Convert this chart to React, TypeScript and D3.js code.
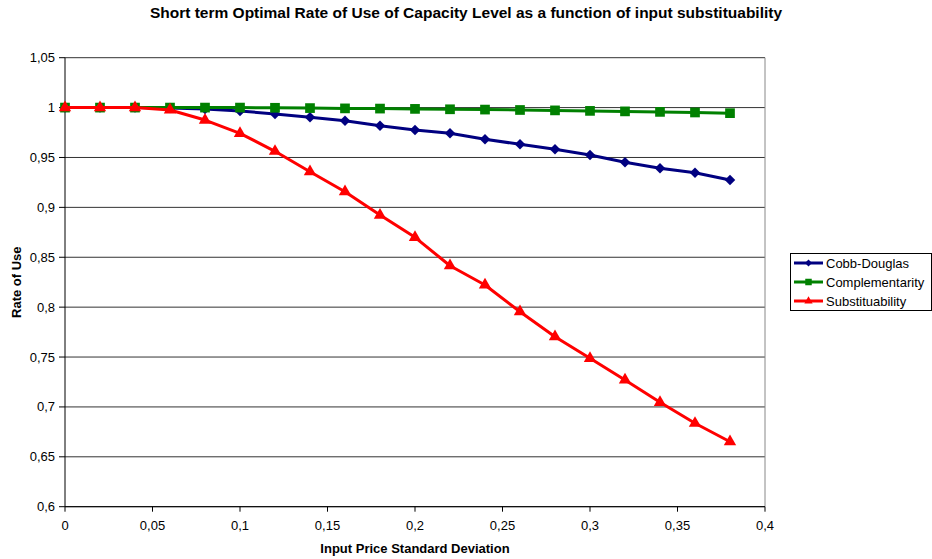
import * as d3 from 'd3';

const X_VALUES = [0, 0.02, 0.04, 0.06, 0.08, 0.1, 0.12, 0.14, 0.16, 0.18, 0.2, 0.22, 0.24, 0.26, 0.28, 0.3, 0.32, 0.34, 0.36, 0.38];
const COBB_DOUGLAS = [1, 1, 1, 0.9995, 0.9985, 0.9966, 0.9936, 0.9903, 0.9869, 0.9818, 0.9775, 0.9742, 0.9682, 0.9632, 0.9582, 0.9525, 0.9452, 0.9392, 0.9347, 0.9274];
const COMPLEMENTARITY = [1, 1, 1, 1, 1, 1, 0.9998, 0.9995, 0.9992, 0.999, 0.9987, 0.9983, 0.998, 0.9976, 0.9972, 0.9967, 0.9962, 0.9957, 0.9951, 0.9944];
const SUBSTITUABILITY = [1, 1, 1, 0.9976, 0.9875, 0.9742, 0.9562, 0.9357, 0.9157, 0.8923, 0.870, 0.8415, 0.8222, 0.7954, 0.7704, 0.7487, 0.727, 0.7046, 0.6836, 0.6651];

const X_TICKS = [0, 0.05, 0.1, 0.15, 0.2, 0.25, 0.3, 0.35, 0.4];
const Y_TICKS = [0.6, 0.65, 0.7, 0.75, 0.8, 0.85, 0.9, 0.95, 1, 1.05];

const VW = 932;
const VH = 559;
const PLOT = { left: 65, right: 765, top: 57.7, bottom: 506.7 };
const FONT = '"Liberation Sans", Arial, sans-serif';

const fmtNum = (v: number) => String(+v.toFixed(2)).replace('.', ',');

const xScale = d3.scaleLinear().domain([0, 0.4]).range([PLOT.left, PLOT.right]);
const yScale = d3.scaleLinear().domain([0.6, 1.05]).range([PLOT.bottom, PLOT.top]);

const SERIES = [
  { name: 'Cobb-Douglas', values: COBB_DOUGLAS, color: '#000080', symbol: d3.symbolDiamond2, size: 70 },
  { name: 'Complementarity', values: COMPLEMENTARITY, color: '#008000', symbol: d3.symbolSquare2, size: 120 },
  { name: 'Substituability', values: SUBSTITUABILITY, color: '#ff0000', symbol: d3.symbolTriangle2, size: 110 },
];

export default function App() {
  const line = d3.line<[number, number]>()
    .x(d => xScale(d[0]))
    .y(d => yScale(d[1]));

  return (
    <div style={{ position: 'fixed', left: 0, top: 0 }}>
      <svg width={VW} height={VH} viewBox={`0 0 ${VW} ${VH}`} style={{ display: 'block', background: '#fff' }}
        fontFamily={FONT}>
        <text x={466} y={18} textAnchor="middle" fontSize={15.5} fontWeight={700} fill="#000">
          Short term Optimal Rate of Use of Capacity Level as a function of input substituability
        </text>

        {/* grid */}
        {Y_TICKS.map(t => (
          <g key={`y${t}`}>
            <line x1={PLOT.left} x2={PLOT.right} y1={yScale(t)} y2={yScale(t)} stroke="#333" strokeWidth={1} />
            <line x1={PLOT.left - 6} x2={PLOT.left} y1={yScale(t)} y2={yScale(t)} stroke="#000" strokeWidth={1} />
            <text x={55} y={yScale(t)} dy="0.35em" textAnchor="end" fontSize={13} fill="#000">
              {fmtNum(t)}
            </text>
          </g>
        ))}
        <line x1={PLOT.right} x2={PLOT.right} y1={PLOT.top} y2={PLOT.bottom} stroke="#888" strokeWidth={1} />
        <line x1={PLOT.left} x2={PLOT.left} y1={PLOT.top} y2={PLOT.bottom} stroke="#000" strokeWidth={1} />
        <line x1={PLOT.left} x2={PLOT.right} y1={PLOT.bottom} y2={PLOT.bottom} stroke="#000" strokeWidth={1} />

        {X_TICKS.map(t => (
          <g key={`x${t}`}>
            <line x1={xScale(t)} x2={xScale(t)} y1={PLOT.bottom} y2={PLOT.bottom + 5} stroke="#000" strokeWidth={1} />
            <text x={xScale(t)} y={530} textAnchor="middle" fontSize={13} fill="#000">
              {fmtNum(t)}
            </text>
          </g>
        ))}

        <text x={(PLOT.left + PLOT.right) / 2} y={553} textAnchor="middle" fontSize={13} fontWeight={700} fill="#000">
          Input Price Standard Deviation
        </text>
        <text transform={`translate(21, ${(PLOT.top + PLOT.bottom) / 2}) rotate(-90)`} textAnchor="middle"
          fontSize={13} fontWeight={700} fill="#000">
          Rate of Use
        </text>

        {SERIES.map(s => {
          const pts = X_VALUES.map((x, i) => [x, s.values[i]] as [number, number]);
          const sym = d3.symbol().type(s.symbol).size(s.size)();
          return (
            <g key={s.name}>
              <path d={line(pts) ?? ''} fill="none" stroke={s.color} strokeWidth={3} strokeLinejoin="round" />
              {pts.map((p, i) => (
                <path key={i} d={sym ?? ''} transform={`translate(${xScale(p[0])}, ${yScale(p[1])})`} fill={s.color} />
              ))}
            </g>
          );
        })}

        {/* legend */}
        <rect x={790.5} y={253.5} width={141} height={57} fill="#fff" stroke="#000" strokeWidth={1} />
        {SERIES.map((s, i) => {
          const cy = 263 + i * 19;
          const sym = d3.symbol().type(s.symbol).size(s.size * 0.45)();
          return (
            <g key={`lg${s.name}`}>
              <line x1={794} x2={823} y1={cy} y2={cy} stroke={s.color} strokeWidth={3} />
              <path d={sym ?? ''} transform={`translate(808.5, ${cy})`} fill={s.color} />
              <text x={826} y={cy} dy="0.38em" fontSize={13} fill="#000">{s.name}</text>
            </g>
          );
        })}
      </svg>
    </div>
  );
}
